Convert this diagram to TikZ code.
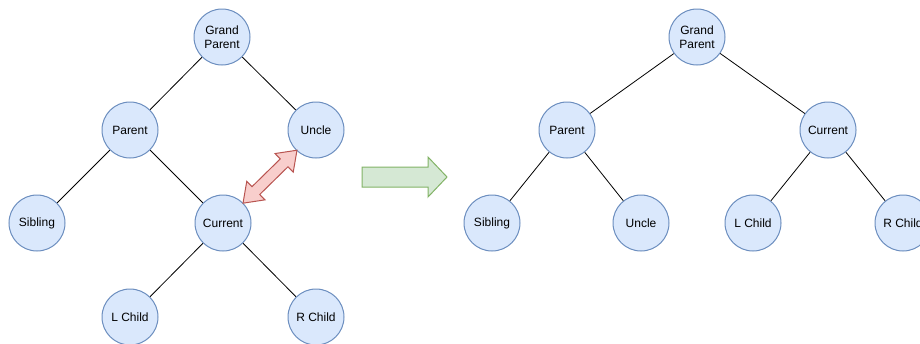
\documentclass[tikz,border=0pt]{standalone}
\usepackage{fontspec}
\setmainfont{Liberation Sans}
\definecolor{nodefill}{HTML}{DAE8FC}
\definecolor{nodeline}{HTML}{6C8EBF}
\definecolor{swapfill}{HTML}{F8CECC}
\definecolor{swapline}{HTML}{B85450}
\definecolor{stepfill}{HTML}{D5E8D4}
\definecolor{stepline}{HTML}{82B366}
\begin{document}
\begin{tikzpicture}[x=1pt,y=-1pt,
  treenode/.style={circle, draw=nodeline, fill=nodefill, line width=1pt,
    minimum size=56pt, inner sep=0pt, align=center,
    font=\fontsize{12}{14}\selectfont},
  link/.style={draw=black, line width=0.8pt}]
\useasboundingbox (0,0) rectangle (920,343);

% Tree before the rotation
\node[treenode] (gp1) at (222,37)  {Grand\\Parent};
\node[treenode] (p1)  at (130,130) {Parent};
\node[treenode] (u1)  at (316,130) {Uncle};
\node[treenode] (s1)  at (37,223)  {Sibling};
\node[treenode] (c1)  at (223,223) {Current};
\node[treenode] (l1)  at (130,317) {L Child};
\node[treenode] (r1)  at (316,317) {R Child};
\draw[link] (gp1) -- (p1);
\draw[link] (gp1) -- (u1);
\draw[link] (p1) -- (s1);
\draw[link] (p1) -- (c1);
\draw[link] (c1) -- (l1);
\draw[link] (c1) -- (r1);

% Swap marker between Current and Uncle
\draw[fill=swapfill, draw=swapline, line width=1pt, line join=miter]
  (296.98,150.22) -- (293.24,172.11) -- (287.98,166.76) -- (259.72,194.50)
  -- (264.98,199.85) -- (243.02,203.18) -- (246.76,181.29) -- (252.02,186.64)
  -- (280.28,158.90) -- (275.02,153.55) -- cycle;

% Transition arrow
\draw[fill=stepfill, draw=stepline, line width=1pt]
  (362,167) -- (428,167) -- (428,157) -- (447,177) -- (428,197)
  -- (428,187) -- (362,187) -- cycle;

% Tree after the rotation
\node[treenode] (gp2) at (697,37)  {Grand\\Parent};
\node[treenode] (p2)  at (567,130) {Parent};
\node[treenode] (c2)  at (828,130) {Current};
\node[treenode] (s2)  at (492,223) {Sibling};
\node[treenode] (u2)  at (641,223) {Uncle};
\node[treenode] (l2)  at (753,223) {L Child};
\node[treenode] (r2)  at (903,223) {R Child};
\draw[link] (gp2) -- (p2);
\draw[link] (gp2) -- (c2);
\draw[link] (p2) -- (s2);
\draw[link] (p2) -- (u2);
\draw[link] (c2) -- (l2);
\draw[link] (c2) -- (r2);
\end{tikzpicture}
\end{document}
